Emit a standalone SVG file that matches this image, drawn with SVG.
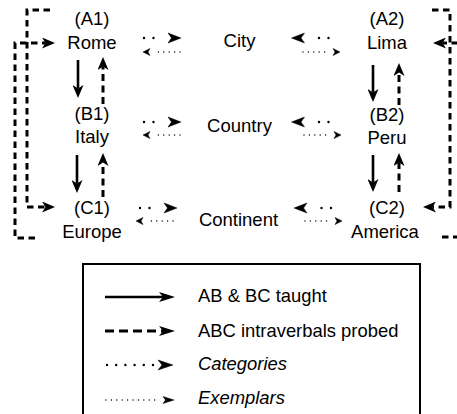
<svg xmlns="http://www.w3.org/2000/svg" width="457" height="414" viewBox="0 0 457 414">
  <style>
    text { font-family: "Liberation Sans", Arial, Helvetica, sans-serif; fill: #000; }
    .node text { font-size: 18.5px; text-anchor: middle; }
    .legend text { font-size: 18.4px; }
    .it { font-style: italic; }
    .solid { fill: none; stroke: #000; stroke-width: 2.6; marker-end: url(#ah); }
    .dash { fill: none; stroke: #000; stroke-width: 3; stroke-dasharray: 7 4.5; marker-end: url(#ah); }
    .bracket { fill: none; stroke: #000; stroke-width: 3; stroke-dasharray: 6.5 4.5; marker-end: url(#ah); }
    .cat { fill: none; stroke: #000; stroke-width: 2.4; stroke-linecap: round; stroke-dasharray: 0 9.5; }
    .ex { fill: none; stroke: #000; stroke-width: 1.4; stroke-linecap: round; stroke-dasharray: 0 5.4; }
    .head { fill: #000; stroke: #000; stroke-width: 0.5; stroke-linejoin: miter; }
  </style>
  <defs>
    <!-- stealth head; line ends sit in the notch -->
    <marker id="ah" viewBox="0 0 13 11" refX="3.5" refY="5.5" markerWidth="13" markerHeight="11" markerUnits="userSpaceOnUse" orient="auto">
      <path d="M0,0 L13,5.5 L0,11 L3.5,5.5 z" fill="#000"/>
    </marker>
    <marker id="lgHead" viewBox="0 0 16 10" refX="4" refY="5" markerWidth="16" markerHeight="10" markerUnits="userSpaceOnUse" orient="auto">
      <path d="M0,0 L16,5 L0,10 L4,5 z" fill="#000"/>
    </marker>
  </defs>

  <rect x="0" y="0" width="457" height="414" fill="#fff"/>

  <!-- nodes -->
  <g id="A1" class="node"><text x="92" y="25">(A1)</text><text x="92" y="48.5">Rome</text></g>
  <g id="B1" class="node"><text x="92" y="119.5">(B1)</text><text x="92" y="143">Italy</text></g>
  <g id="C1" class="node"><text x="92" y="214">(C1)</text><text x="92" y="237.5">Europe</text></g>
  <g id="A2" class="node"><text x="387" y="25">(A2)</text><text x="387" y="48.5">Lima</text></g>
  <g id="B2" class="node"><text x="387" y="120.5">(B2)</text><text x="387" y="144">Peru</text></g>
  <g id="C2" class="node"><text x="387" y="214">(C2)</text><text x="385" y="237.5">America</text></g>
  <g id="City" class="node"><text x="239.5" y="46.5">City</text></g>
  <g id="Country" class="node"><text x="239.5" y="131.5">Country</text></g>
  <g id="Continent" class="node"><text x="238.5" y="226">Continent</text></g>

  <!-- connectors -->
  <g id="connectors">
    <!-- taught A->B, B->C -->
    <line class="solid" x1="78" y1="60" x2="78" y2="88.5"/>
    <line class="solid" x1="77" y1="155" x2="77" y2="183.5"/>
    <line class="solid" x1="373" y1="65" x2="373" y2="92.5"/>
    <line class="solid" x1="373" y1="155" x2="373" y2="182.5"/>
    <!-- probed C->B, B->A -->
    <line class="dash" x1="103" y1="104" x2="103" y2="66.5"/>
    <line class="dash" x1="103" y1="197" x2="103" y2="162.5"/>
    <line class="dash" x1="399" y1="105" x2="399" y2="72.5"/>
    <line class="dash" x1="399" y1="192" x2="399" y2="162.5"/>
    <!-- probed A->C and C->A brackets -->
    <path class="bracket" d="M50,10 H27 V207 H45.5"/>
    <path class="bracket" d="M35,238 H15 V43 H45.5"/>
    <path class="bracket" d="M432,10 H450 V207 H432.5"/>
    <path class="bracket" d="M442,237 H463 V43 H442.5"/>

    <!-- categories: exemplar -> category (dots, then head) -->
    <path class="cat" d="M144,38 H163"/>
    <path class="head" d="M168,33 L181,38 L168,43 L171.5,38 z"/>
    <path class="cat" d="M144,122 H163"/>
    <path class="head" d="M168,117 L181,122 L168,127 L171.5,122 z"/>
    <path class="cat" d="M140,208 H159"/>
    <path class="head" d="M164,203 L177,208 L164,213 L167.5,208 z"/>
    <path class="cat" d="M328.5,38 H309.5"/>
    <path class="head" d="M304.5,33 L291.5,38 L304.5,43 L301,38 z"/>
    <path class="cat" d="M328.5,122 H309.5"/>
    <path class="head" d="M304.5,117 L291.5,122 L304.5,127 L301,122 z"/>
    <path class="cat" d="M331,208 H312"/>
    <path class="head" d="M307,203 L294,208 L307,213 L303.5,208 z"/>

    <!-- exemplars: category -> exemplar -->
    <path class="ex" d="M180,52 H153"/>
    <path class="head" d="M150,48.5 L143,52 L150,55.5 L148,52 z"/>
    <path class="ex" d="M180,135 H153"/>
    <path class="head" d="M150,131.5 L143,135 L150,138.5 L148,135 z"/>
    <path class="ex" d="M173,221 H146"/>
    <path class="head" d="M143,217.5 L136,221 L143,224.5 L141,221 z"/>
    <path class="ex" d="M303,52 H330"/>
    <path class="head" d="M333,48.5 L340,52 L333,55.5 L335,52 z"/>
    <path class="ex" d="M304,135 H331"/>
    <path class="head" d="M334,131.5 L341,135 L334,138.5 L336,135 z"/>
    <path class="ex" d="M305,221 H332"/>
    <path class="head" d="M335,217.5 L342,221 L335,224.5 L337,221 z"/>
  </g>

  <!-- legend -->
  <g id="legend" class="legend">
    <rect x="83" y="264" width="337" height="160" fill="none" stroke="#000" stroke-width="2"/>
    <line x1="105" y1="297" x2="163" y2="297" stroke="#000" stroke-width="2.6" marker-end="url(#lgHead)"/>
    <line x1="105" y1="331" x2="163" y2="331" stroke="#000" stroke-width="3" stroke-dasharray="9 5" marker-end="url(#lgHead)"/>
    <path class="cat" d="M107,365 H153" style="stroke-dasharray: 0 9.2"/>
    <path class="head" d="M158,360 L173,365 L158,370 L162,365 z"/>
    <path class="ex" d="M106,400 H160"/>
    <path class="head" d="M163,396.5 L174,400 L163,403.5 L165.5,400 z"/>
    <text x="198" y="302">AB &amp; BC taught</text>
    <text x="198" y="336.5">ABC intraverbals probed</text>
    <text x="198" y="370" class="it">Categories</text>
    <text x="198" y="404" class="it">Exemplars</text>
  </g>
</svg>
